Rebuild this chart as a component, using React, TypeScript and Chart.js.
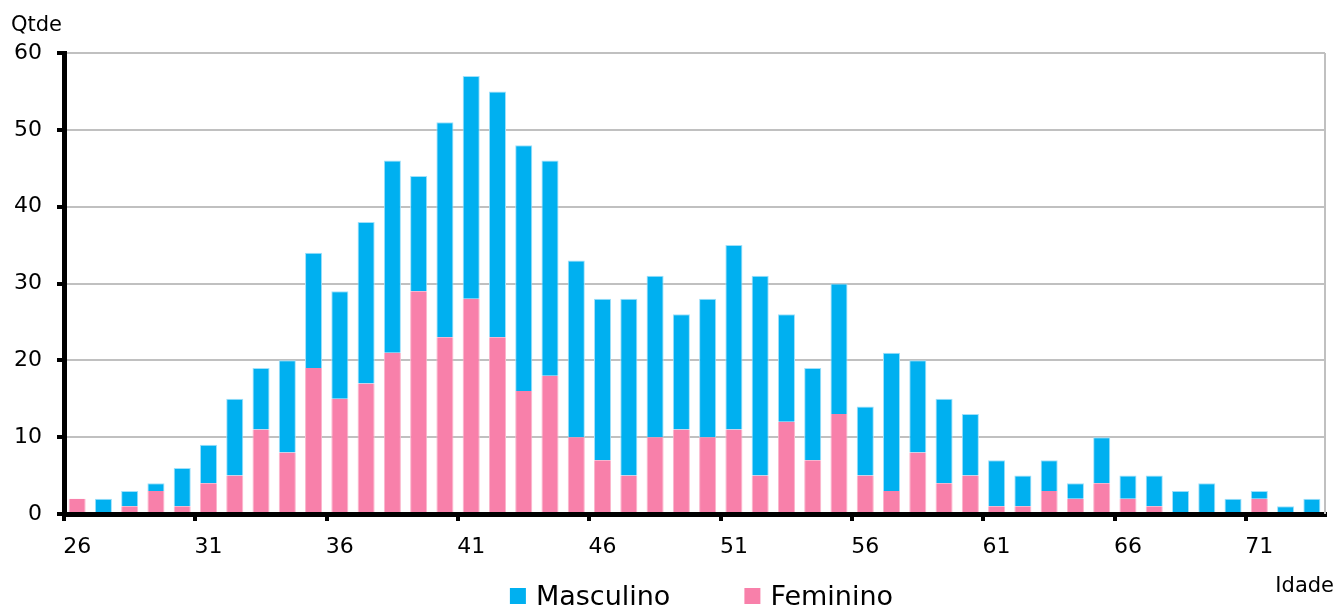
import React, { useEffect, useRef } from "react";
import { Chart, registerables } from "chart.js";

Chart.register(...registerables);

const ages = [26, 27, 28, 29, 30, 31, 32, 33, 34, 35, 36, 37, 38, 39, 40, 41, 42, 43, 44, 45, 46, 47, 48, 49, 50, 51, 52, 53, 54, 55, 56, 57, 58, 59, 60, 61, 62, 63, 64, 65, 66, 67, 68, 69, 70, 71, 72, 73];
const feminino = [2, 0, 1, 3, 1, 4, 5, 11, 8, 19, 15, 17, 21, 29, 23, 28, 23, 16, 18, 10, 7, 5, 10, 11, 10, 11, 5, 12, 7, 13, 5, 3, 8, 4, 5, 1, 1, 3, 2, 4, 2, 1, 0, 0, 0, 2, 0, 0];
const masculino = [0, 2, 2, 1, 5, 5, 10, 8, 12, 15, 14, 21, 25, 15, 28, 29, 32, 32, 28, 23, 21, 23, 21, 15, 18, 24, 26, 14, 12, 17, 9, 18, 12, 11, 8, 6, 4, 4, 2, 6, 3, 4, 3, 4, 2, 1, 1, 2];
const yTicks = [0, 10, 20, 30, 40, 50, 60];

const FONT = "'DejaVu Sans', sans-serif";
const BLUE = "#00B0F0";
const PINK = "#F880AA";

const extrasPlugin = {
  id: "extras",
  afterDraw(chart: any) {
    const { ctx, chartArea } = chart;
    ctx.save();
    // right border of plot area
    ctx.strokeStyle = "#c0c0c0";
    ctx.lineWidth = 2;
    ctx.beginPath();
    ctx.moveTo(chartArea.right, chartArea.top);
    ctx.lineTo(chartArea.right, chartArea.bottom);
    ctx.stroke();
    // axis titles
    ctx.fillStyle = "#000";
    ctx.font = `21px ${FONT}`;
    ctx.textBaseline = "alphabetic";
    ctx.textAlign = "left";
    ctx.fillText("Qtde", 11, 31);
    ctx.textAlign = "right";
    ctx.fillText("Idade", 1334, 592);
    // legend
    ctx.font = `27px ${FONT}`;
    ctx.textAlign = "left";
    const items = chart.data.datasets.map((d: any) => ({ label: d.label, color: d.backgroundColor }));
    const box = 16, gap = 10, spacing = 74;
    const widths = items.map((it: any) => box + gap + ctx.measureText(it.label).width);
    const total = widths.reduce((a: number, b: number) => a + b, 0) + spacing * (items.length - 1);
    let x = (chartArea.left + chartArea.right) / 2 + 7 - total / 2;
    items.forEach((it: any, i: number) => {
      ctx.fillStyle = it.color;
      ctx.fillRect(x, 588, box, box);
      ctx.fillStyle = "#000";
      ctx.fillText(it.label, x + box + gap, 605);
      x += widths[i] + spacing;
    });
    ctx.restore();
  },
};

export default function App() {
  const ref = useRef<HTMLCanvasElement>(null);
  useEffect(() => {
    const chart = new Chart(ref.current!, {
      type: "bar",
      data: {
        labels: ages.map(String),
        datasets: [
          {
            label: "Masculino",
            data: masculino,
            backgroundColor: BLUE,
            borderColor: "#9fe0fa",
            borderWidth: 1,
            borderSkipped: "bottom",
            stack: "s",
            order: 2,
          },
          {
            label: "Feminino",
            data: feminino,
            backgroundColor: PINK,
            borderColor: "#fbb5cc",
            borderWidth: 1,
            borderSkipped: "top",
            stack: "s",
            order: 1,
          },
        ] as any,
      },
      options: {
        animation: false,
        responsive: true,
        maintainAspectRatio: false,
        layout: { padding: { top: 53, left: 0, right: 13, bottom: 0 } },
        plugins: { legend: { display: false }, tooltip: { enabled: false } },
        datasets: { bar: { barPercentage: 0.65, categoryPercentage: 1 } },
        scales: {
          x: {
            stacked: true,
            afterFit: (s: any) => {
              s.height = 94;
            },
            grid: {
              offset: true,
              drawOnChartArea: false,
              drawTicks: true,
              tickLength: 7,
              color: (c: any) => (c.index % 5 === 0 ? "#000" : "rgba(0,0,0,0)"),
              tickColor: (c: any) => (c.index % 5 === 0 ? "#000" : "rgba(0,0,0,0)"),
              tickWidth: 4,
              lineWidth: 4,
            },
            border: { display: true, color: "#000", width: 5, z: 1 },
            ticks: {
              autoSkip: false,
              maxRotation: 0,
              padding: 13,
              color: "#000",
              font: { family: FONT, size: 22 },
              callback: (_v: any, i: number) => (i % 5 === 0 ? String(ages[i]) : ""),
            },
          },
          y: {
            stacked: true,
            min: yTicks[0],
            max: yTicks[yTicks.length - 1],
            afterFit: (s: any) => {
              s.width = 64;
            },
            afterBuildTicks: (s: any) => {
              s.ticks = yTicks.map((v) => ({ value: v }));
            },
            grid: {
              color: "#c0c0c0",
              lineWidth: 2,
              tickColor: "#000",
              tickLength: 7,
              tickWidth: 4,
            },
            border: { display: true, color: "#000", width: 5, z: 1 },
            ticks: {
              padding: 15,
              color: "#000",
              font: { family: FONT, size: 22 },
            },
          },
        },
      } as any,
      plugins: [extrasPlugin],
    });
    return () => chart.destroy();
  }, []);
  return (
    <div style={{ position: "fixed", left: 0, top: 0, width: 1338, height: 608, background: "#fff" }}>
      <canvas ref={ref} />
    </div>
  );
}
